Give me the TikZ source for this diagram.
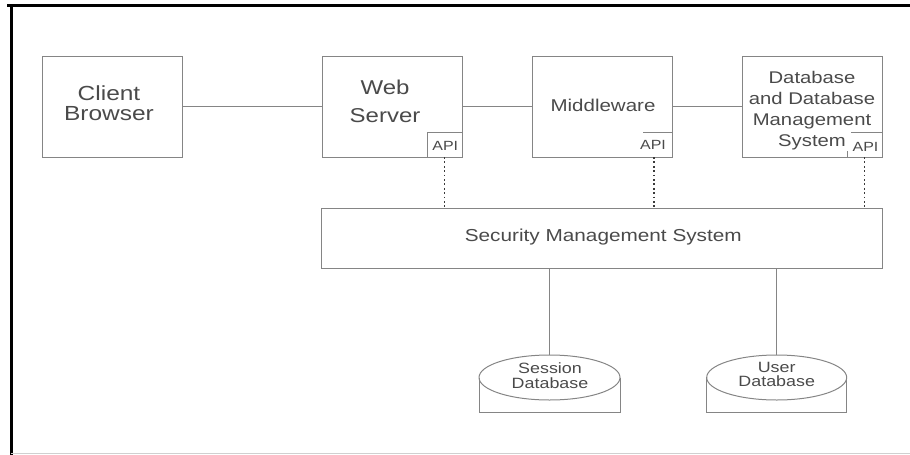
\documentclass[tikz,border=0pt]{standalone}
\usepackage{fontspec}
\setmainfont{Liberation Sans}[FakeStretch=1.2]
\usetikzlibrary{shapes.geometric}
\definecolor{linegray}{HTML}{858585}
\definecolor{textgray}{HTML}{4A4A4A}
\definecolor{dotgray}{HTML}{3A3A3A}
\definecolor{framegray}{HTML}{D0D0D0}
\tikzset{
  boxnode/.style={draw=linegray, line width=1pt, minimum width=140pt, minimum height=101pt, inner sep=0pt, outer sep=0pt},
  apinode/.style={line width=1pt, minimum width=35pt, minimum height=25pt, inner sep=0pt, outer sep=0pt},
  txt/.style={text=textgray, align=center, anchor=base, inner sep=0pt, outer sep=0pt},
  conn/.style={draw=linegray, line width=1pt},
  dotline/.style={draw=dotgray, line width=1.8pt, dash pattern=on 1.8pt off 2.6pt},
  dbtop/.style={draw=linegray, line width=1pt, ellipse, minimum height=45pt, inner sep=0pt, outer sep=0pt}
}
\newcommand{\fs}[2]{\fontsize{#1}{#2}\selectfont}
\begin{document}
\begin{tikzpicture}[x=1pt, y=-1pt]
\useasboundingbox (0,0) rectangle (910,455);
% frame
\draw[line width=2.5pt] (7,5.5) -- (910,5.5);
\draw[line width=3pt] (11,4.5) -- (11,455);
\draw[draw=framegray, line width=1pt] (11,453.8) -- (910,453.8);

% boxes
\node[boxnode] (client) at (112,106.5) {};
\node[boxnode] (web) at (392,106.5) {};
\node[boxnode] (mw) at (602,106.5) {};
\node[boxnode] (db) at (812,106.5) {};
\node[draw=linegray, line width=1pt, minimum width=561pt, minimum height=60pt, inner sep=0pt, outer sep=0pt] (sec) at (601.5,238) {};

% API boxes
\node[apinode, draw=linegray] (webapi) at (444.5,144.5) {};
\node[apinode, minimum width=36pt] (mwapi) at (654,144.5) {};
\node[apinode] (dbapi) at (864.5,144.5) {};
\draw[conn] ([xshift=7pt]mwapi.north west) -- (mwapi.north east);
\draw[conn] ([xshift=4pt]dbapi.north west) -- (dbapi.north east);
\draw[conn] (dbapi.south west) -- ++(0,-6.5);

% texts (anchor base = baseline of the last line)
\node[txt, font=\fs{20.4}{20.7}] (clienttxt) at (109,120.7) {Client\\Browser};
\node[txt, font=\fs{20}{28.7}] (webtxt) at (385,122.7) {Web\\Server};
\node[txt, font=\fs{17.1}{20}] (mwtxt) at (603,111.7) {Middleware};
\node[txt, font=\fs{16.9}{20.9}] (dbtxt) at (812,146) {Database\\and Database\\Management\\System};
\node[txt, font=\fs{17.3}{20}] (sectxt) at (603.3,241) {Security Management System};
\node[txt, font=\fs{13.3}{15}] (webapitxt) at (445.3,150) {API};
\node[txt, font=\fs{13.3}{15}] (mwapitxt) at (653,149.3) {API};
\node[txt, font=\fs{13.3}{15}] (dbapitxt) at (865.5,151) {API};

% cylinders
\node[dbtop, minimum width=141pt] (sess) at (549.5,377.5) {};
\node[dbtop, minimum width=140pt] (user) at (776.7,377.5) {};
\draw[conn] (sess.west) -- ++(0,34.5) -- ([yshift=-34.5pt]sess.east) -- (sess.east);
\draw[conn] (user.west) -- ++(0,34.5) -- ([yshift=-34.5pt]user.east) -- (user.east);
\node[txt, font=\fs{14.9}{15}] (sesstxt) at (550,388.3) {Session\\Database};
\node[txt, font=\fs{14.9}{14.5}] (usertxt) at (776.7,386.7) {User\\Database};

% connectors
\draw[conn] (client.east) -- (web.west);
\draw[conn] (web.east) -- (mw.west);
\draw[conn] (mw.east) -- (db.west);
\draw[dotline] (webapi.south) -- (webapi.south |- sec.north);
\draw[dotline] (mwapi.south) -- (mwapi.south |- sec.north);
\draw[dotline] (dbapi.south) -- (dbapi.south |- sec.north);
\draw[conn] (sess.north |- sec.south) -- (sess.north);
\draw[conn] (user.north |- sec.south) -- (user.north);
\end{tikzpicture}
\end{document}
